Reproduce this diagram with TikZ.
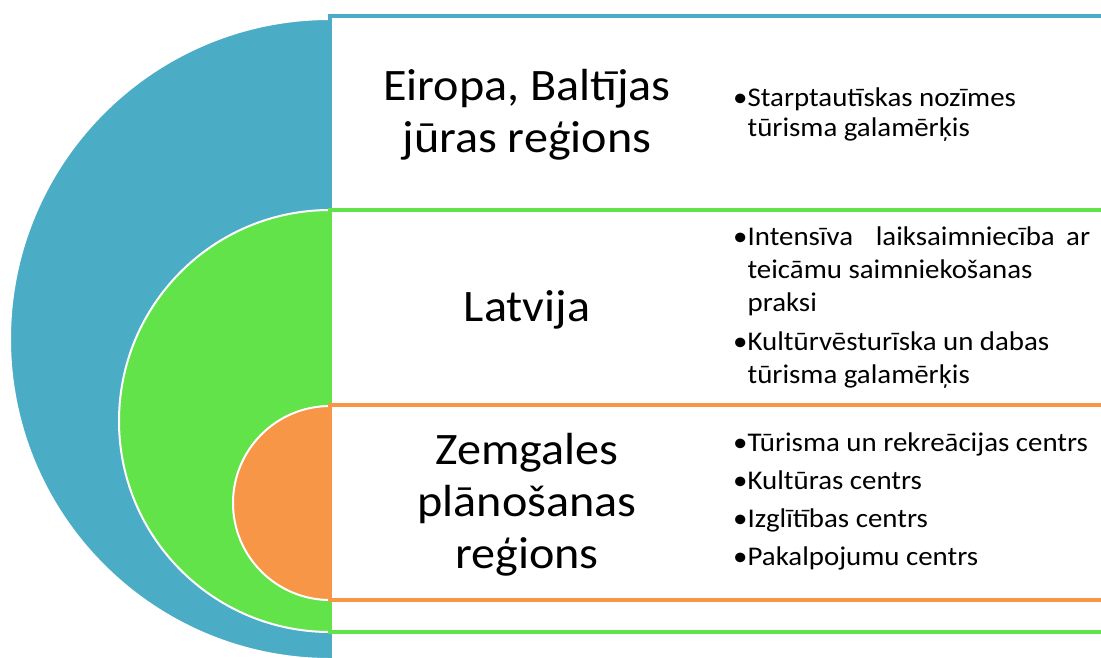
\documentclass[tikz,border=0pt]{standalone}
\usepackage{fontspec}
\setmainfont{Carlito}[FakeStretch=1.07]
\definecolor{seablue}{HTML}{4BACC6}
\definecolor{landgreen}{HTML}{62E349}
\definecolor{zemorange}{HTML}{F79646}
\tikzset{
	disc/.style={draw=white, line width=2pt},
	band/.style={line width=4pt, fill=white},
	title/.style={font=\fontsize{45}{52}\selectfont, align=center},
	items/.style={font=\fontsize{27}{33}\selectfont, align=left, anchor=north west, inner sep=0pt,
		execute at begin node=\rule{0pt}{26pt}},
}
\newcommand{\bulletgap}{\hphantom{•}}
\begin{document}
\begin{tikzpicture}[x=1pt, y=-1pt]
	\useasboundingbox (0,0) rectangle (1101,657);
	\clip (0,0) rectangle (1101,657);

	% Eiropa
	\path[disc, fill=seablue] (330,19) arc[start angle=270, end angle=90, radius=320] -- cycle;
	\draw[band, draw=seablue] (330,16) rectangle (1130,700);
	% Latvija
	\path[disc, fill=landgreen] (330,210) arc[start angle=270, end angle=90, radius=211] -- cycle;
	\draw[band, draw=landgreen] (330,210) rectangle (1130,632);
	% Zemgale
	\path[disc, fill=zemorange] (330,406) arc[start angle=270, end angle=90, radius=97] -- cycle;
	\draw[band, draw=zemorange] (330,405) rectangle (1130,600);

	\node[title] (europe)  at (527,115) {Eiropa, Baltījas\\jūras reģions};
	\node[title] (latvia)  at (527,310) {Latvija};
	\node[title] (zemgale) at (527,505) {Zemgales\\plānošanas\\reģions};

	\node[items] (europeitems)  at (733,88)  {•Starptautīskas nozīmes\\[-3pt]\bulletgap tūrisma galamērķis};
	\node[items] (latviaitems)  at (733,227) {\makebox[357pt][s]{•Intensīva\ \ laiksaimniecība ar}\\\bulletgap teicāmu saimniekošanas\\\bulletgap praksi\\[6pt]•Kultūrvēsturīska un dabas\\\bulletgap tūrisma galamērķis};
	\node[items] (zemgaleitems) at (733,433) {•Tūrisma un rekreācijas centrs\\[5pt]•Kultūras centrs\\[5pt]•Izglītības centrs\\[5pt]•Pakalpojumu centrs};
\end{tikzpicture}
\end{document}
